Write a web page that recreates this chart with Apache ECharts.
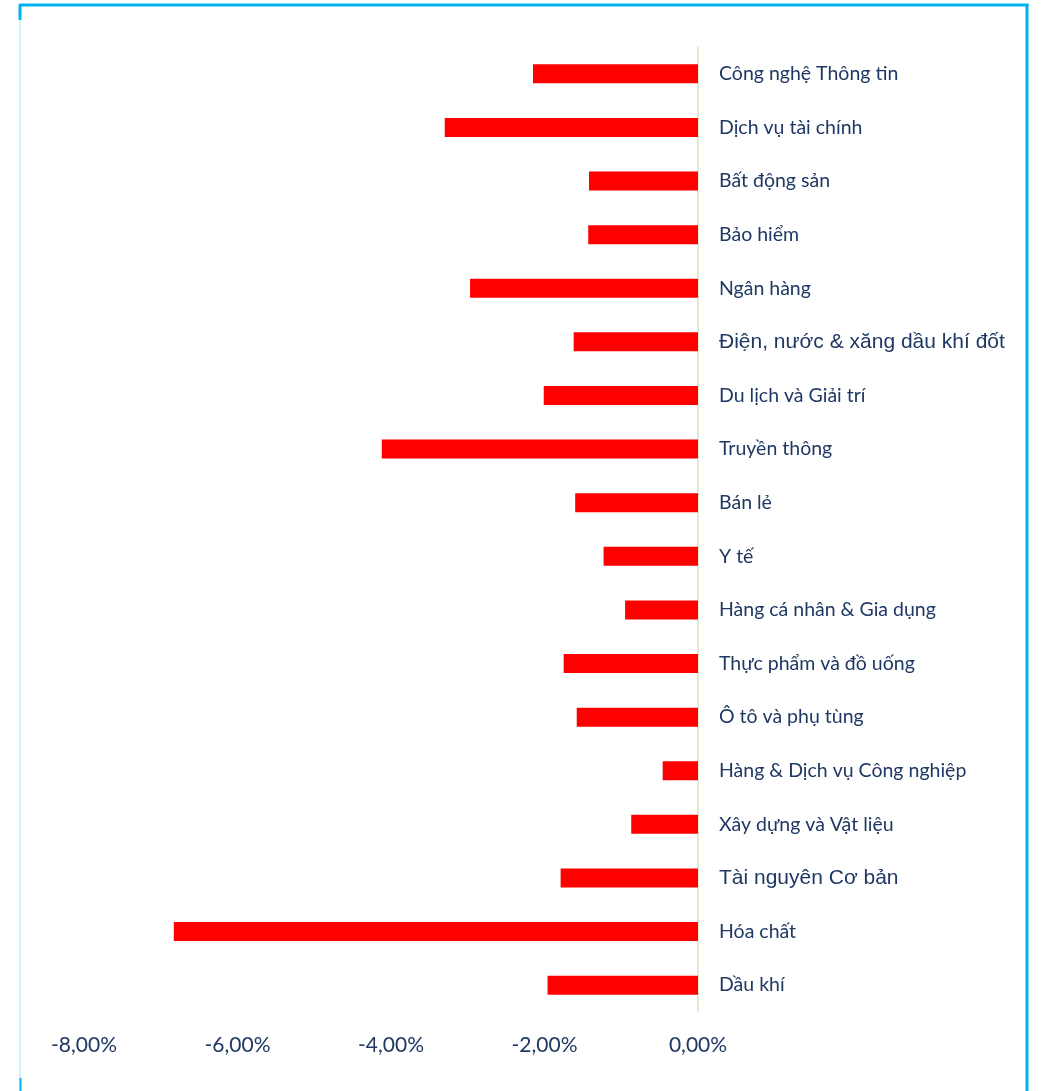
<!DOCTYPE html>
<html><head><meta charset="utf-8">
<script src="https://cdn.jsdelivr.net/npm/echarts@6/dist/echarts.min.js"></script>
<style>html,body{margin:0;padding:0;background:#fff}#c{width:1046px;height:1091px}</style>
</head><body><div id="c"></div>
<script>
const categories = ["Công nghệ Thông tin","Dịch vụ tài chính","Bất động sản","Bảo hiểm","Ngân hàng","Điện, nước & xăng dầu khí đốt","Du lịch và Giải trí","Truyền thông","Bán lẻ","Y tế","Hàng cá nhân & Gia dụng","Thực phẩm và đồ uống","Ô tô và phụ tùng","Hàng & Dịch vụ Công nghiệp","Xây dựng và Vật liệu","Tài nguyên Cơ bản","Hóa chất","Dầu khí"];
const values = [-2.15,-3.30,-1.42,-1.43,-2.97,-1.62,-2.01,-4.12,-1.60,-1.23,-0.95,-1.75,-1.58,-0.46,-0.87,-1.79,-6.83,-1.96];
const arialLabels = ["Điện, nước & xăng dầu khí đốt","Tài nguyên Cơ bản"];

const chart = echarts.init(document.getElementById('c'));
chart.setOption({
  animation:false,
  grid:{left:84,top:47,width:614,height:965},
  xAxis:{type:'value',min:-8,max:0,interval:2,
    splitLine:{show:false},axisLine:{show:false},axisTick:{show:false},
    axisLabel:{margin:23,fontFamily:'Lato',fontSize:21,color:'#1f3864',
      formatter:v=>v.toFixed(2).replace('.',',')+'%'}},
  yAxis:{type:'category',data:categories,inverse:true,position:'right',
    axisLine:{show:true,lineStyle:{color:'#d7e4bd',width:1.5}},axisTick:{show:false},
    axisLabel:{margin:21,align:'left',
      formatter:v=>arialLabels.includes(v)?'{a|'+v+'}':'{c|'+v+'}',
      rich:{
        c:{fontFamily:'Lato',fontSize:19.5,color:'#1f3864'},
        a:{fontFamily:'Liberation Sans',fontSize:21,color:'#1f3864'}
      }}},
  series:[{type:'bar',data:values,barWidth:19,itemStyle:{color:'#ff0000'}}],
  graphic:[
    {type:'line',shape:{x1:20,y1:5,x2:1028.5,y2:5},style:{stroke:'#00b0f0',lineWidth:3}},
    {type:'line',shape:{x1:20,y1:4,x2:20,y2:20},style:{stroke:'#00b0f0',lineWidth:3}},
    {type:'line',shape:{x1:20,y1:20,x2:20,y2:1091},style:{stroke:'#a8e0f6',lineWidth:1}},
    {type:'line',shape:{x1:20.5,y1:1078,x2:20.5,y2:1091},style:{stroke:'#00b0f0',lineWidth:2}},
    {type:'line',shape:{x1:1027,y1:4,x2:1027,y2:1091},style:{stroke:'#00b0f0',lineWidth:3}}
  ]
});
</script></body></html>
